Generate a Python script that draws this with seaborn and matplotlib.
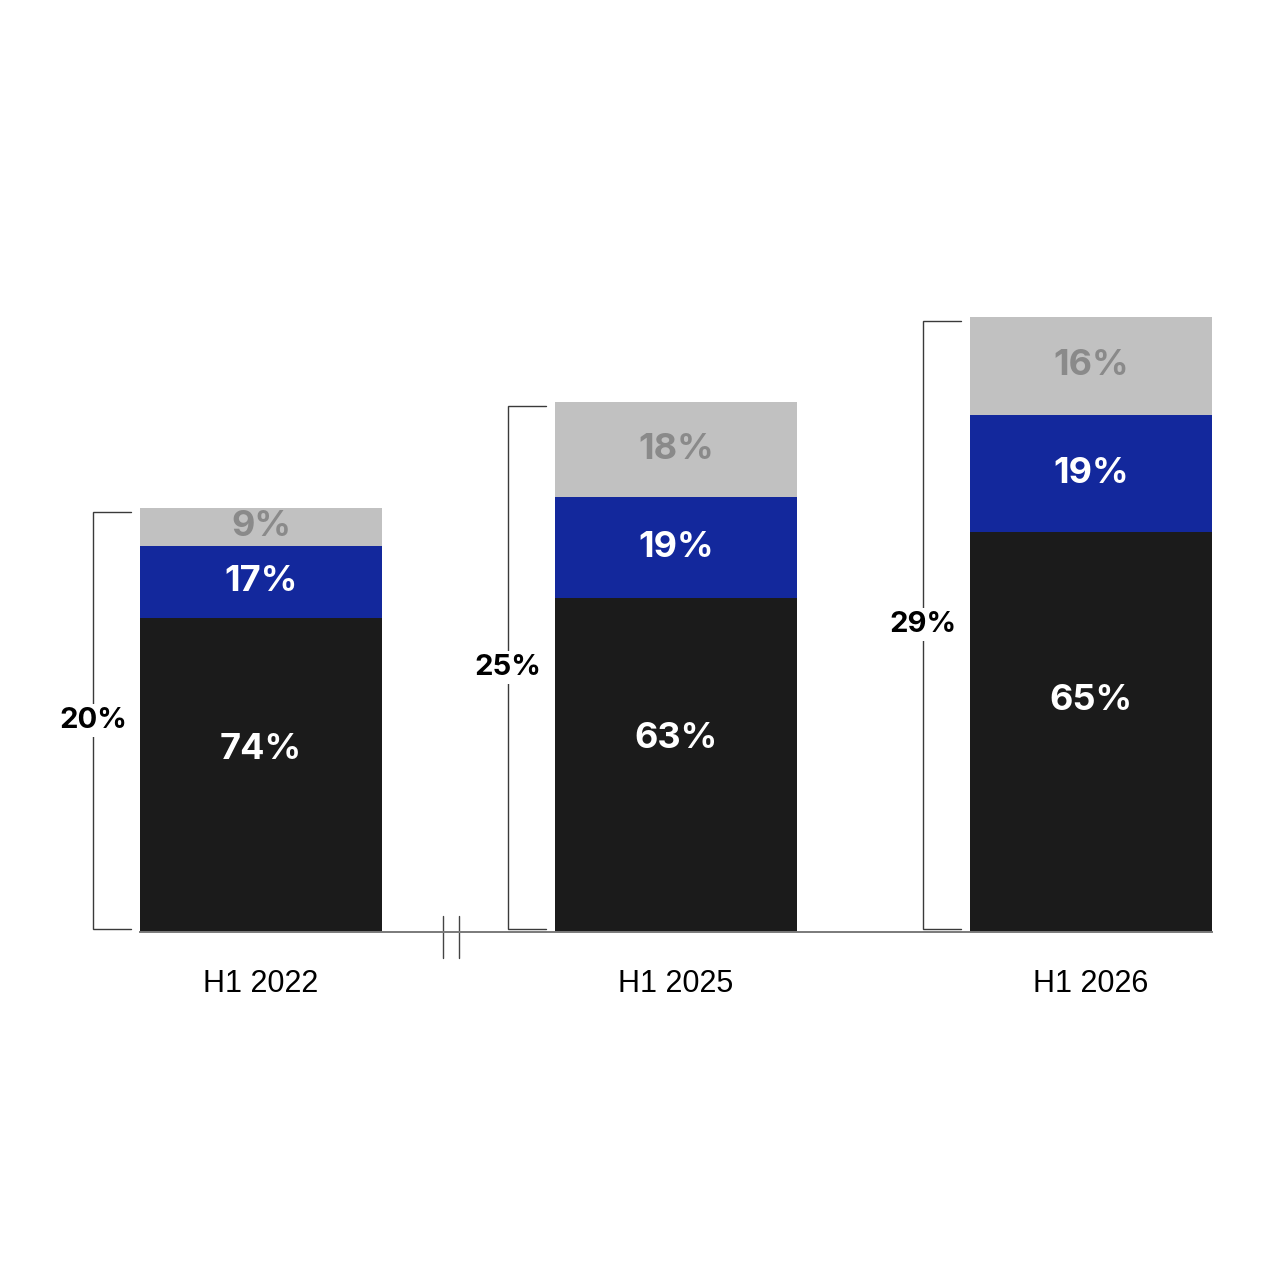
import matplotlib
matplotlib.use("Agg")
import matplotlib.pyplot as plt
import seaborn as sns
import pandas as pd

# ---- data ----
periods = ["H1 2022", "H1 2025", "H1 2026"]
totals = [20, 25, 29]          # bracket values (bar heights)
black_share = [74, 63, 65]
blue_share = [17, 19, 19]
gray_share = [9, 18, 16]

# ---- style ----
BLACK = "#1b1b1b"
BLUE = "#13289c"
GRAY = "#c1c1c1"
GRAY_TXT = "#8a8a8a"
BAR_W = 0.583

sns.set_style("white")
plt.rcParams["font.family"] = ["Liberation Sans", "DejaVu Sans"]

black_h = [t * s / 100 for t, s in zip(totals, black_share)]
blue_h = [t * s / 100 for t, s in zip(totals, blue_share)]
gray_h = [t * s / 100 for t, s in zip(totals, gray_share)]
df = pd.DataFrame({
    "period": periods,
    "black": black_h,
    "black_blue": [a + b for a, b in zip(black_h, blue_h)],
    "total": [a + b + c for a, b, c in zip(black_h, blue_h, gray_h)],
})

fig = plt.figure(figsize=(12.8, 12.8), dpi=100)
ax = fig.add_axes([0, 0, 1, 1])

for col, colr in [("total", GRAY), ("black_blue", BLUE), ("black", BLACK)]:
    sns.barplot(data=df, x="period", y=col, order=periods, color=colr,
                saturation=1, width=BAR_W, edgecolor="none", linewidth=0, ax=ax)

# axes mapping (pixels per unit)
k = 21.22
base_px = 932
ax.set_ylim(-(1280 - base_px) / k, base_px / k)
ax.set_xlim(-261 / 415, (1280 - 261) / 415)

for s in ["top", "right", "left"]:
    ax.spines[s].set_visible(False)
ax.spines["bottom"].set_position(("data", 0))
ax.spines["bottom"].set_bounds(-BAR_W / 2, len(periods) - 1 + BAR_W / 2)
ax.spines["bottom"].set_color("#7a7a7a")
ax.spines["bottom"].set_linewidth(1.4)
ax.set_yticks([])
ax.set_xlabel("")
ax.set_ylabel("")
ax.tick_params(axis="x", length=0, pad=27, labelsize=22, labelcolor="black")

lab_font = dict(family=["Inter", "DejaVu Sans"], fontweight="bold", fontsize=26)
for i in range(len(periods)):
    b, u, g = black_h[i], blue_h[i], gray_h[i]
    ax.text(i, b * 0.58, f"{black_share[i]}%", ha="center", va="center",
            color="white", **lab_font)
    ax.text(i, b + u / 2, f"{blue_share[i]}%", ha="center", va="center",
            color="white", **lab_font)
    ax.text(i, b + u + g / 2, f"{gray_share[i]}%", ha="center", va="center",
            color=GRAY_TXT, **lab_font)

    # bracket
    xb = i - 0.405
    xe = i - 0.313
    top = totals[i] - 0.19
    bot = 0.14
    ax.plot([xe, xb, xb, xe], [top, top, bot, bot], color="#3a3a3a", lw=1.0,
            solid_joinstyle="miter")
    ax.text(xb, (top + bot) / 2, f"{totals[i]}%", ha="center", va="center",
            color="black", family=["Inter", "DejaVu Sans"], fontweight="bold",
            fontsize=21, bbox=dict(facecolor="white", edgecolor="none", pad=2))

# axis break marks
for xm in [0.4386, 0.477]:
    ax.plot([xm, xm], [0.75, -1.23], color="#444444", lw=1.0, clip_on=False)

fig.savefig("out.png", dpi=100, facecolor="white")
